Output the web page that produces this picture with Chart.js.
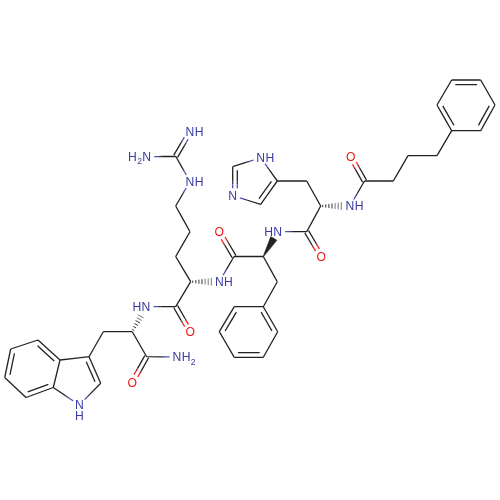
<!DOCTYPE html>
<html><head><meta charset="utf-8">
<script src="https://cdn.jsdelivr.net/npm/chart.js@4"></script>
<style>html,body{margin:0;padding:0;background:#fff}canvas{display:block}</style>
</head><body><canvas id="c" width="500" height="500"></canvas>
<script>
const atomX=[38,10.7,4.7,26,53.3,60,89,100.7,79.3,103.3,132.3,146.7,132.3,177,146,175.7,190.3,190.7,219.3,175.7,190,175.7,190,175.7,190,146.7,234,219.3,263.3,277.3,263.3,234.3,219.3,234.3,263.3,277.7,277.7,306.7,321.3,320.7,306.7,277.3,260.7,232.7,232.7,260.7,350,364.5,350.7,393.3,408,437,451.7,437,451.7,480.7,495,480.7];
const atomY=[340,349,377.5,397.5,387.5,360,356.7,383.3,405,331.7,331.7,356.7,382.3,357,306.7,306.7,332,281.7,281.7,256.5,231.7,206,181.5,156.3,131.7,156.7,256.5,231.7,256.5,281.7,306.7,306.7,331.7,357.3,357.3,331.7,231.7,231.7,256.5,206,181,181,157.7,166.7,195.7,204.3,206,181,156.7,181,155.7,155.7,130.7,105,80,80,105,130.7];
const atomElement="CCCCCCCCNCCCONNCOCNCCCNCNNCOCCCCCCCCNCOCCCNCNCNCOCCCCCCCCC".split("");
const singleFrom=[0,2,4,5,7,8,6,9,10,11,14,15,17,19,20,21,22,23,18,26,28,29,30,32,34,36,37,39,40,41,42,44,46,47,49,50,51,53,55,57,31];
const singleTo=[1,3,5,6,8,4,9,10,11,13,15,17,19,20,21,22,23,25,26,28,29,30,31,33,35,37,39,40,41,42,43,45,47,49,50,51,52,54,56,52,30];
const doubleFrom=[0,1,3,6,11,15,23,26,31,30,33,37,43,45,47,54,52,56];
const doubleTo=[5,2,4,7,12,16,24,27,32,35,34,38,44,41,48,55,53,57];
const hatchFrom=[10,17,39];
const hatchTo=[14,18,46];
const wedgeFrom=[28];
const wedgeTo=[36];
const rings=[[0,1,2,3,4,5],[4,5,6,7,8],[30,31,32,33,34,35],[41,42,43,44,45],[52,53,54,55,56,57]];
const labelAtom=[8,13,14,16,12,18,22,24,25,27,36,38,42,44,46,48];
const labelBefore=["","","H","","","","","","H","","H","","","","",""];
const labelAfter=["","H","","","","H","H","H","","","","","H","","H",""];
const labelSub=["","2","","","","","","","2","","","","","","",""];
const labelBelow=["H","","","","","","","","","","","","","","",""];

const COL={C:"#222222",N:"#4f4fb0",O:"#ff1f1f",mN:"#35356e",mO:"#8f2020"};
const TEXT={N:"#3a3aa4",O:"#f01818"};
const buckets={C:[],N:[],O:[],mN:[],mO:[]};
const hasLabel=a=>atomElement[a]!=="C";
function push(col,x1,y1,x2,y2){buckets[col].push({x:x1,y:y1},{x:x2,y:y2},{x:null,y:null});}
function half(el,x1,y1,mx,my,ux,uy){
  if(el==="C"){push("C",x1,y1,mx,my);return;}
  const bx=mx-ux*3,by=my-uy*3;
  push(el,x1,y1,bx,by);push("m"+el,bx,by,mx,my);
}
function halves(a,b,ox,oy,sh){
  let x1=atomX[a]+ox,y1=atomY[a]+oy,x2=atomX[b]+ox,y2=atomY[b]+oy;
  const dx=x2-x1,dy=y2-y1,L=Math.hypot(dx,dy),ux=dx/L,uy=dy/L;
  let s1=sh||0,s2=sh||0;
  if(hasLabel(a))s1=Math.max(s1,7.5);
  if(hasLabel(b))s2=Math.max(s2,7.5);
  const mx=(x1+x2)/2,my=(y1+y2)/2;
  half(atomElement[a],x1+ux*s1,y1+uy*s1,mx,my,ux,uy);
  half(atomElement[b],x2-ux*s2,y2-uy*s2,mx,my,-ux,-uy);
}
singleFrom.forEach((a,i)=>halves(a,singleTo[i],0,0,0));
doubleFrom.forEach((a,i)=>{
  const b=doubleTo[i],dx=atomX[b]-atomX[a],dy=atomY[b]-atomY[a],L=Math.hypot(dx,dy);
  let nx=-dy/L,ny=dx/L;
  const ring=rings.find(r=>r.includes(a)&&r.includes(b));
  if(ring){
    const cx=ring.reduce((s,k)=>s+atomX[k],0)/ring.length,cy=ring.reduce((s,k)=>s+atomY[k],0)/ring.length;
    const mx=(atomX[a]+atomX[b])/2,my=(atomY[a]+atomY[b])/2;
    if(nx*(cx-mx)+ny*(cy-my)<0){nx=-nx;ny=-ny;}
    halves(a,b,0,0,0);
    halves(a,b,nx*4.6,ny*4.6,3.6);
  }else{
    halves(a,b,nx*2.2,ny*2.2,0);
    halves(a,b,-nx*2.2,-ny*2.2,0);
  }
});
const hatchNear=[],hatchFar=[],solid=[];
hatchFrom.forEach((a,i)=>{
  const b=hatchTo[i],dx=atomX[b]-atomX[a],dy=atomY[b]-atomY[a],L=Math.hypot(dx,dy),ux=dx/L,uy=dy/L;
  for(let d=2;d<=L-8;d+=3.1){const w=0.9+d*0.14,t=d<L*0.4?hatchNear:hatchFar;
    t.push({x:atomX[a]+ux*d-uy*w,y:atomY[a]+uy*d+ux*w},{x:atomX[a]+ux*d+uy*w,y:atomY[a]+uy*d-ux*w},{x:null,y:null});}
});
wedgeFrom.forEach((a,i)=>{
  const b=wedgeTo[i],dx=atomX[b]-atomX[a],dy=atomY[b]-atomY[a],L=Math.hypot(dx,dy),ux=dx/L,uy=dy/L;
  for(let d=0;d<=L-7.5;d+=0.4){const w=0.3+d*0.16;
    solid.push({x:atomX[a]+ux*d-uy*w,y:atomY[a]+uy*d+ux*w},{x:atomX[a]+ux*d+uy*w,y:atomY[a]+uy*d-ux*w},{x:null,y:null});}
});
const mk=(label,data,color,w)=>({label,data,borderColor:color,backgroundColor:color,borderWidth:w,pointRadius:0,showLine:true,spanGaps:false,fill:false,tension:0});
const labelPlugin={id:"atomLabels",afterDatasetsDraw(chart){
  const ctx=chart.ctx,xs=chart.scales.x,ys=chart.scales.y;
  const F="13.5px 'Liberation Sans'",S="9.5px 'Liberation Sans'",K=0.9;
  const put=(t,x,y)=>ctx.fillText(t,x,y,ctx.measureText(t).width*K);
  const wid=t=>ctx.measureText(t).width*K;
  ctx.save();ctx.textBaseline="middle";
  labelAtom.forEach((a,i)=>{
    const x=xs.getPixelForValue(atomX[a]),y=ys.getPixelForValue(atomY[a]),el=atomElement[a];
    ctx.fillStyle=TEXT[el];ctx.font=F;
    const w=wid(el);
    ctx.textAlign="center";put(el,x,y+0.5);
    let right=x+w/2+0.4,left=x-w/2-0.4;
    if(labelAfter[i]){ctx.textAlign="left";put(labelAfter[i],right,y+0.5);right+=wid(labelAfter[i]);
      if(labelSub[i]){ctx.font=S;put(labelSub[i],right+0.3,y+5);}}
    if(labelBefore[i]){ctx.font=F;
      if(labelSub[i]){ctx.font=S;ctx.textAlign="right";put(labelSub[i],left,y+5);left-=wid(labelSub[i])+0.3;ctx.font=F;}
      ctx.textAlign="right";put(labelBefore[i],left,y+0.5);}
    if(labelBelow[i]){ctx.font=F;ctx.textAlign="center";put(labelBelow[i],x,y+11.5);}
  });
  ctx.restore();
}};
new Chart(document.getElementById("c"),{type:"scatter",
 data:{datasets:[mk("carbon bonds",buckets.C,COL.C,1.3),mk("nitrogen bonds",buckets.N,COL.N,1.3),mk("oxygen bonds",buckets.O,COL.O,1.3),mk("nitrogen blend",buckets.mN,COL.mN,1.3),mk("oxygen blend",buckets.mO,COL.mO,1.3),mk("hatched near",hatchNear,"#333333",1),mk("hatched far",hatchFar,"#777777",1),mk("wedge bonds",solid,"#111111",0.8)]},
 options:{responsive:false,animation:false,devicePixelRatio:1,layout:{padding:0},
  plugins:{legend:{display:false},tooltip:{enabled:false},title:{display:false}},
  scales:{x:{type:"linear",display:false,min:0,max:500},y:{type:"linear",display:false,min:0,max:500,reverse:true}}},
 plugins:[labelPlugin]});
</script></body></html>
